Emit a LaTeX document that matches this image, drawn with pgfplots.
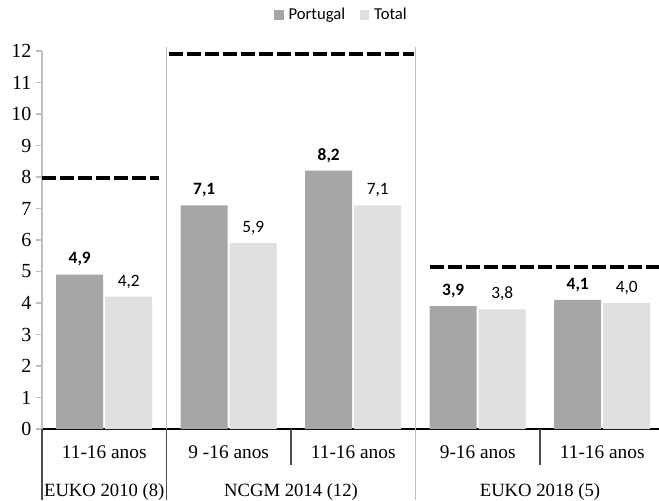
\documentclass[border=0pt]{standalone}
\usepackage{fontspec}
\setmainfont{Liberation Serif}
\newfontfamily\carlito{Carlito}
\usepackage{pgfplots}
\pgfplotsset{compat=1.18}

\definecolor{ptgray}{HTML}{A6A6A6}
\definecolor{totgray}{HTML}{E0E0E0}
\definecolor{sepgray}{HTML}{BFBFBF}

\begin{document}
\begin{tikzpicture}
\begin{axis}[
  at={(0pt,0pt)}, anchor=south west,
  scale only axis,
  width=462.75pt, height=283.5pt,
  xmin=-0.5, xmax=4.456,
  ymin=0, ymax=12,
  ybar=1.5pt, bar width=35.25pt,
  clip=false,
  axis lines*=left,
  x axis line style={black, line width=1pt},
  y axis line style={sepgray, line width=0.8pt},
  xtick={0,1,2,3,4},
  xticklabels={11-16 anos, 9 -16 anos, 11-16 anos, 9-16 anos, 11-16 anos},
  xtick style={draw=none},
  xticklabel style={anchor=center, yshift=-13pt, font=\fontsize{14.5}{14.5}\selectfont},
  ytick={0,1,...,12},
  ytick style={sepgray, line width=0.8pt},
  tick align=outside,
  major tick length=4.5pt,
  yticklabel style={font=\fontsize{15}{15}\selectfont},
  /pgf/number format/assume math mode=true,
  legend columns=2,
  legend style={at={(0.486,1.095)}, anchor=center, draw=none, fill=none,
    font=\carlito\fontsize{12.5}{12.5}\selectfont,
    /tikz/every odd column/.append style={column sep=1.5pt},
    /tikz/every even column/.append style={column sep=9pt}},
  legend image code/.code={\fill[#1,draw=none] (0pt,-3.6pt) rectangle (7.2pt,3.6pt);},
  nodes near coords={\pgfmathprintnumber[fixed,fixed zerofill,precision=1,use comma,assume math mode=true]{\pgfplotspointmeta}},
  every node near coord/.append style={anchor=base, yshift=8pt,
    font=\carlito\fontsize{13}{13}\selectfont},
]
% Portugal
\addplot[fill=ptgray, draw=none,
  every node near coord/.append style={font=\carlito\bfseries\fontsize{13}{13}\selectfont}]
  coordinates {(0,4.9) (1,7.1) (2,8.2) (3,3.9) (4,4.1)};
\addlegendentry{Portugal}
% Total
\addplot[fill=totgray, draw=none]
  coordinates {(0,4.2) (1,5.9) (2,7.1) (3,3.8) (4,4.0)};
\addlegendentry{Total}

% reference levels per study
\addplot[sharp plot, black, line width=3pt, dash pattern=on 10.5pt off 3pt, forget plot, nodes near coords={}]
  coordinates {(-0.5,7.97) (0.44,7.97)};
\addplot[sharp plot, black, line width=3pt, dash pattern=on 10.5pt off 3pt, forget plot, nodes near coords={}]
  coordinates {(0.52,11.9) (2.49,11.9)};
\addplot[sharp plot, black, line width=3pt, dash pattern=on 10.5pt off 3pt, forget plot, nodes near coords={}]
  coordinates {(2.62,5.15) (4.456,5.15)};

% study separators and category ticks
\draw[sepgray, line width=0.8pt] (axis cs:0.5,12.13) -- (axis cs:0.5,0);
\draw[black!70, line width=0.8pt] (axis cs:0.5,0) -- ([yshift=-53.25pt]axis cs:0.5,0);
\draw[sepgray, line width=0.8pt] (axis cs:2.5,12.13) -- ([yshift=-53.25pt]axis cs:2.5,0);
\draw[black!70, line width=0.8pt] (axis cs:-0.5,0) -- ([yshift=-53.25pt]axis cs:-0.5,0);
\draw[black!70, line width=0.8pt] (axis cs:1.5,0) -- ([yshift=-27pt]axis cs:1.5,0);
\draw[black!70, line width=0.8pt] (axis cs:3.5,0) -- ([yshift=-27pt]axis cs:3.5,0);

% study names
\node[font=\fontsize{14}{14}\selectfont] at ([yshift=-47pt]axis cs:0,0) {EUKO 2010 (8)};
\node[font=\fontsize{14}{14}\selectfont] at ([yshift=-47pt]axis cs:1.5,0) {NCGM 2014 (12)};
\node[font=\fontsize{14}{14}\selectfont] at ([yshift=-47pt]axis cs:3.5,0) {EUKO 2018 (5)};
\end{axis}
\pgfresetboundingbox
\path[use as bounding box] (-31.5pt,-53.25pt) rectangle (462.75pt,321.75pt);
\end{tikzpicture}
\end{document}
